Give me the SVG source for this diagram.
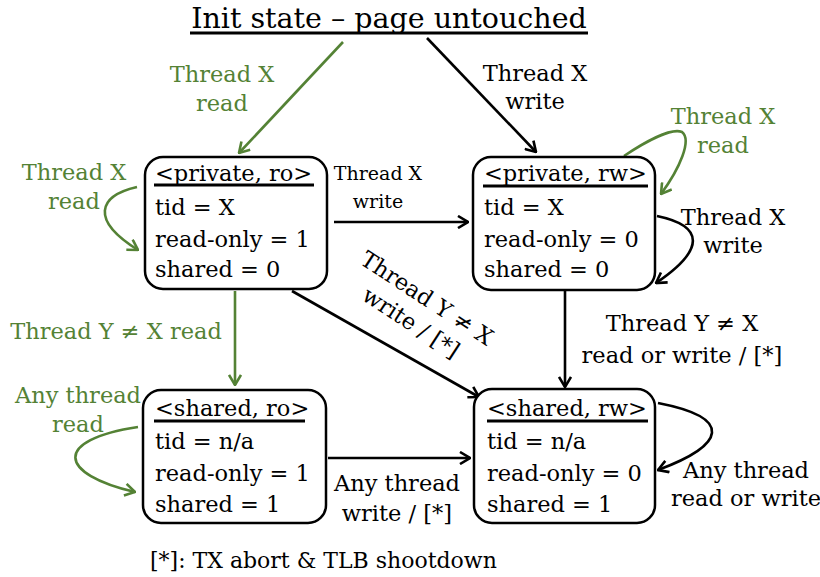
<svg xmlns="http://www.w3.org/2000/svg" width="820" height="577" viewBox="0 0 820 577">
  <style>
    text { font-family: "DejaVu Serif", "Liberation Serif", serif; font-size: 22.5px; fill: #000; }
    .title { font-size: 28.5px; }
    .sm { font-size: 19px; }
    .g { fill: #548235; }
    .c { text-anchor: middle; }
    .box { fill: #fff; stroke: #000; stroke-width: 2.5; }
    .ul { stroke: #000; stroke-width: 3; }
    .k { fill: none; stroke: #000; stroke-width: 2.6; marker-end: url(#ak); }
    .gr { fill: none; stroke: #548235; stroke-width: 2.6; marker-end: url(#ag); }
  </style>
  <defs>
    <marker id="ak" viewBox="0 0 12 14" refX="11" refY="7" markerWidth="12" markerHeight="14" markerUnits="userSpaceOnUse" orient="auto">
      <path d="M1,1 L11,7 L1,13" fill="none" stroke="#000" stroke-width="2.6"/>
    </marker>
    <marker id="ag" viewBox="0 0 12 14" refX="11" refY="7" markerWidth="12" markerHeight="14" markerUnits="userSpaceOnUse" orient="auto">
      <path d="M1,1 L11,7 L1,13" fill="none" stroke="#548235" stroke-width="2.6"/>
    </marker>
  </defs>

  <rect width="820" height="577" fill="#fff"/>

  <!-- initial state heading -->
  <g id="init">
    <text class="title c" x="389" y="28">Init state – page untouched</text>
    <line class="ul" x1="190" y1="33" x2="588" y2="33"/>
  </g>

  <!-- transitions -->
  <g id="connectors">
    <path class="gr" d="M343,42 L239,153"/>
    <path class="k" d="M427,38 L536,152"/>
    <path class="gr" d="M624,156 C648,140 672,128 682,132 C692,140 680,168 661,194"/>
    <path class="k" d="M657,216 C705,226 705,250 656,283"/>
    <path class="gr" d="M137,187 C98,196 90,220 138,250"/>
    <path class="k" d="M334,222 L468,222"/>
    <path class="gr" d="M235,291 L235,385"/>
    <path class="k" d="M292,291 L479,397"/>
    <path class="k" d="M565,291 L565,387"/>
    <path class="k" d="M328,458 L470,458"/>
    <path class="gr" d="M138,427 C52,440 58,474 135,492"/>
    <path class="k" d="M658,403 C735,418 725,445 658,470"/>

    <!-- transition labels -->
    <text class="g c" x="222" y="82">Thread X</text>
    <text class="g c" x="222" y="111">read</text>
    <text class="c" x="535" y="81">Thread X</text>
    <text class="c" x="535" y="109">write</text>
    <text class="g c" x="723" y="124">Thread X</text>
    <text class="g c" x="723" y="153">read</text>
    <text class="g c" x="74" y="180">Thread X</text>
    <text class="g c" x="74" y="209">read</text>
    <text class="sm c" x="378" y="180">Thread X</text>
    <text class="sm c" x="378" y="208">write</text>
    <text class="c" x="733" y="225">Thread X</text>
    <text class="c" x="733" y="253">write</text>
    <text class="g c" x="116" y="339">Thread Y ≠ X read</text>
    <g transform="translate(427,298) rotate(33)">
      <text class="c" x="0" y="8">Thread Y ≠ X</text>
      <text class="c" x="0" y="37">write / [*]</text>
    </g>
    <text class="c" x="682" y="331">Thread Y ≠ X</text>
    <text class="c" x="682" y="363">read or write / [*]</text>
    <text class="g c" x="78" y="403">Any thread</text>
    <text class="g c" x="78" y="432">read</text>
    <text class="c" x="397" y="491">Any thread</text>
    <text class="c" x="397" y="521">write / [*]</text>
    <text class="c" x="746" y="478">Any thread</text>
    <text class="c" x="746" y="506">read or write</text>
  </g>

  <!-- states -->
  <g id="private-ro">
    <rect class="box" x="145" y="157" width="182" height="132" rx="18"/>
    <text x="155" y="181">&lt;private, ro&gt;</text>
    <line class="ul" x1="154" y1="185" x2="314" y2="185"/>
    <text x="155" y="215">tid = X</text>
    <text x="155" y="247">read-only = 1</text>
    <text x="155" y="277">shared = 0</text>
  </g>

  <g id="private-rw">
    <rect class="box" x="473" y="157" width="182" height="133" rx="18"/>
    <text x="484" y="181">&lt;private, rw&gt;</text>
    <line class="ul" x1="483" y1="186" x2="648" y2="186"/>
    <text x="484" y="215">tid = X</text>
    <text x="484" y="247">read-only = 0</text>
    <text x="484" y="277">shared = 0</text>
  </g>

  <g id="shared-ro">
    <rect class="box" x="143" y="390" width="183" height="133" rx="18"/>
    <text x="155" y="416">&lt;shared, ro&gt;</text>
    <line class="ul" x1="154" y1="421" x2="305" y2="421"/>
    <text x="155" y="449">tid = n/a</text>
    <text x="155" y="481">read-only = 1</text>
    <text x="155" y="512">shared = 1</text>
  </g>

  <g id="shared-rw">
    <rect class="box" x="474" y="389" width="181" height="134" rx="18"/>
    <text x="487" y="416">&lt;shared, rw&gt;</text>
    <line class="ul" x1="487" y1="421" x2="648" y2="421"/>
    <text x="487" y="449">tid = n/a</text>
    <text x="487" y="481">read-only = 0</text>
    <text x="487" y="512">shared = 1</text>
  </g>

  <!-- footnote -->
  <text x="150" y="568" style="font-size:22px">[*]: TX abort &amp; TLB shootdown</text>
</svg>
